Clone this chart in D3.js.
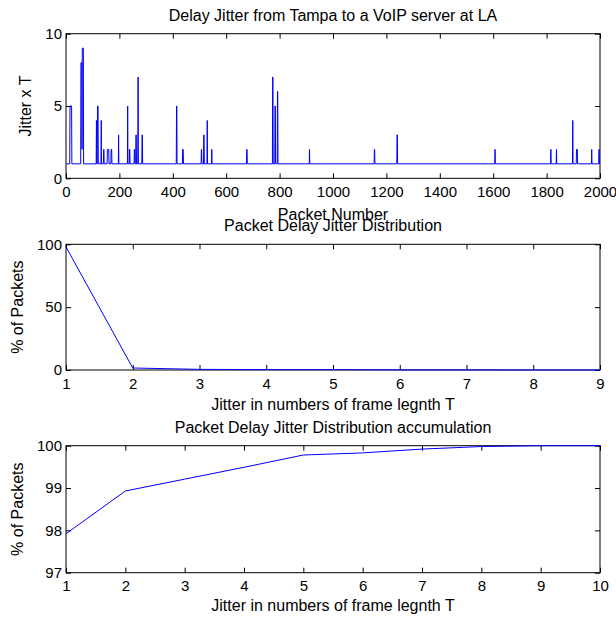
<!DOCTYPE html>
<html>
<head>
<meta charset="utf-8">
<script src="https://cdn.jsdelivr.net/npm/d3@7"></script>
<style>
  body { margin: 0; background: #fff; }
  svg { display: block; font-family: "Liberation Sans", Arial, sans-serif; }
  .axis text { font-size: 15px; fill: #000; }
  .axis line { stroke: #000; }
  .label { font-size: 16px; fill: #000; }
</style>
</head>
<body>
<div id="chart"></div>
<script>
document.addEventListener('DOMContentLoaded', init, false);

var width = 616;
var height = 619;

// plot 1: jitter per packet (1 everywhere except these runs)
var packetFirst = 1;
var packetLast = 2000;
var baseJitter = 1;
var spikeStart  = [15, 56, 60, 61, 114, 118, 132, 141, 155, 169, 197, 231, 238, 256, 262, 270, 285, 414, 437, 507, 516, 529, 546, 677, 774, 783, 792, 912, 1155, 1240, 1607, 1816, 1837, 1898, 1912, 1969, 1996];
var spikeEnd    = [21, 59, 60, 65, 114, 120, 132, 142, 160, 171, 197, 231, 239, 257, 263, 270, 286, 415, 439, 508, 517, 529, 546, 678, 775, 784, 793, 912, 1156, 1241, 1607, 1816, 1837, 1898, 1915, 1969, 1997];
var spikeJitter = [5, 8, 2, 9, 4, 5, 4, 2, 2, 2, 3, 5, 2, 2, 3, 7, 3, 5, 2, 2, 3, 4, 2, 2, 7, 5, 6, 2, 2, 3, 2, 2, 2, 4, 2, 2, 2];

// plot 2: distribution
var jitterLevels = [1, 2, 3, 4, 5, 6, 7, 8, 9];
var distPercent = [97.9, 1.6, 0.5, 0.3, 0.28, 0.1, 0.09, 0.06, 0.02];

// plot 3: accumulation
var accLevels = [1, 2, 3, 4, 5, 6, 7, 8, 9, 10];
var accPercent = [97.92, 98.93, 99.21, 99.49, 99.78, 99.83, 99.92, 99.98, 100, 100];

// ticks
var xTicks1 = [0, 200, 400, 600, 800, 1000, 1200, 1400, 1600, 1800, 2000];
var yTicks1 = [0, 5, 10];
var xTicks2 = [1, 2, 3, 4, 5, 6, 7, 8, 9];
var yTicks2 = [0, 50, 100];
var xTicks3 = [1, 2, 3, 4, 5, 6, 7, 8, 9, 10];
var yTicks3 = [97, 98, 99, 100];

var fmt = d3.format('d');

function init() {

  var svg = d3.select('#chart')
    .append('svg')
      .attr('width', width)
      .attr('height', height);

  var p1 = drawAxes(svg, {
    left: 66, right: 600, top: 33.7, bottom: 178.3,
    xDomain: [0, 2000], yDomain: [0, 10],
    xTicks: xTicks1, yTicks: yTicks1, xPad: 8.5,
    title: 'Delay Jitter from Tampa to a VoIP server at LA',
    xLabel: 'Packet Number', xLabelGap: 41.5,
    yLabel: 'Jitter x T', yLabelX: 25
  });
  drawLine(p1, jitterSeries());

  var p2 = drawAxes(svg, {
    left: 66, right: 600, top: 244.3, bottom: 370,
    xDomain: [1, 9], yDomain: [0, 100],
    xTicks: xTicks2, yTicks: yTicks2, xPad: 8,
    title: 'Packet Delay Jitter Distribution',
    xLabel: 'Jitter in numbers of frame legnth T', xLabelGap: 39.5,
    yLabel: '% of Packets', yLabelX: 17
  });
  drawLine(p2, jitterLevels.map(function (d, i) { return [d, distPercent[i]]; }));

  var p3 = drawAxes(svg, {
    left: 66, right: 600, top: 445.7, bottom: 572.7,
    xDomain: [1, 10], yDomain: [97, 100],
    xTicks: xTicks3, yTicks: yTicks3, xPad: 7.5,
    title: 'Packet Delay Jitter Distribution accumulation',
    xLabel: 'Jitter in numbers of frame legnth T', xLabelGap: 38.5,
    yLabel: '% of Packets', yLabelX: 17
  });
  drawLine(p3, accLevels.map(function (d, i) { return [d, accPercent[i]]; }));
}

function jitterSeries() {

  var pts = [[packetFirst, baseJitter]];
  var last = packetFirst;

  spikeStart.forEach(function (s, i) {
    if (s - last > 1) pts.push([s - 1, baseJitter]);
    pts.push([s, spikeJitter[i]]);
    pts.push([spikeEnd[i], spikeJitter[i]]);
    var next = spikeStart[i + 1];
    if (next === undefined || next - spikeEnd[i] > 1) pts.push([spikeEnd[i] + 1, baseJitter]);
    last = spikeEnd[i] + 1;
  });

  pts.push([packetLast, baseJitter]);
  return pts;
}

function drawAxes(svg, o) {

  var x = d3.scaleLinear().domain(o.xDomain).range([o.left, o.right]);
  var y = d3.scaleLinear().domain(o.yDomain).range([o.bottom, o.top]);

  var g = svg.append('g');

  g.append('g')
    .attr('class', 'axis')
    .attr('transform', 'translate(0,' + o.bottom + ')')
    .call(d3.axisBottom(x).tickValues(o.xTicks).tickFormat(fmt).tickSize(-5).tickPadding(o.xPad))
    .call(function (a) { a.select('.domain').remove(); });

  g.append('g')
    .attr('class', 'axis')
    .attr('transform', 'translate(0,' + o.top + ')')
    .call(d3.axisTop(x).tickValues(o.xTicks).tickSize(-5).tickFormat(''))
    .call(function (a) { a.select('.domain').remove(); });

  g.append('g')
    .attr('class', 'axis')
    .attr('transform', 'translate(' + o.left + ',0)')
    .call(d3.axisLeft(y).tickValues(o.yTicks).tickFormat(fmt).tickSize(-5).tickPadding(4))
    .call(function (a) { a.select('.domain').remove(); });

  g.append('g')
    .attr('class', 'axis')
    .attr('transform', 'translate(' + o.right + ',0)')
    .call(d3.axisRight(y).tickValues(o.yTicks).tickSize(-5).tickFormat(''))
    .call(function (a) { a.select('.domain').remove(); });

  g.append('rect')
    .attr('x', o.left)
    .attr('y', o.top)
    .attr('width', o.right - o.left)
    .attr('height', o.bottom - o.top)
    .attr('fill', 'none')
    .attr('stroke', '#000')
    .attr('stroke-width', 1);

  var cx = (o.left + o.right) / 2;

  g.append('text')
    .attr('class', 'label')
    .attr('x', cx)
    .attr('y', o.top - 13)
    .attr('text-anchor', 'middle')
    .text(o.title);

  g.append('text')
    .attr('class', 'label')
    .attr('x', cx)
    .attr('y', o.bottom + o.xLabelGap)
    .attr('text-anchor', 'middle')
    .text(o.xLabel);

  g.append('text')
    .attr('class', 'label')
    .attr('transform', 'translate(' + o.yLabelX + ',' + (o.top + o.bottom) / 2 + ') rotate(-90)')
    .attr('dy', '0.35em')
    .attr('text-anchor', 'middle')
    .text(o.yLabel);

  return { g: g, x: x, y: y };
}

function drawLine(p, data) {

  var line = d3.line()
    .x(function (d) { return p.x(d[0]); })
    .y(function (d) { return p.y(d[1]); });

  p.g.append('path')
    .datum(data)
    .attr('fill', 'none')
    .attr('stroke', '#0000ff')
    .attr('stroke-width', 1)
    .attr('d', line);
}
</script>
</body>
</html>
